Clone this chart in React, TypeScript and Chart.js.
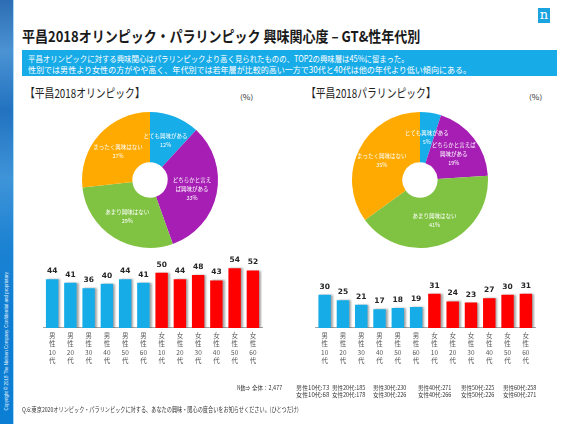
import React, { useEffect, useLayoutEffect, useRef } from "react";
import { Chart, registerables } from "chart.js";

Chart.register(...registerables);

// ---------- data ----------
const pieCategories = ["とても興味がある", "どちらかと言えば興味がある", "あまり興味はない", "まったく興味はない"];
const olympicValues = [12, 33, 29, 27];
const paralympicValues = [5, 19, 41, 35];
const olympicLabelLines = [["とても興味がある"], ["どちらかと言え", "ば興味がある"], ["あまり興味はない"], ["まったく興味はない"]];
const paralympicLabelLines = [["とても興味がある"], ["どちらかと言えば", "興味がある"], ["あまり興味はない"], ["まったく興味はない"]];
const pieColors = ["#17ADE8", "#A61EB4", "#80C342", "#FFAA00"];

const groups = ["男性10代", "男性20代", "男性30代", "男性40代", "男性50代", "男性60代", "女性10代", "女性20代", "女性30代", "女性40代", "女性50代", "女性60代"];
const groupAxisLabels = groups.map((g) => [g[0], g[1], g.slice(2, 4), g[4]]);
const olympicByGroup = [44, 41, 36, 40, 44, 41, 50, 44, 48, 43, 54, 52];
const paralympicByGroup = [30, 25, 21, 17, 18, 19, 31, 24, 23, 27, 30, 31];
const maleColor = "#15ACE8";
const femaleColor = "#FF0000";
const groupColors = groups.map((g) => (g.startsWith("男") ? maleColor : femaleColor));

const sampleTotal = "全体：2,477";
const sampleMale = ["男性10代:73", "男性20代:185", "男性30代:230", "男性40代:271", "男性50代:225", "男性60代:258"];
const sampleFemale = ["女性10代:68", "女性20代:178", "女性30代:226", "女性40代:266", "女性50代:226", "女性60代:271"];

const titleText = "平昌2018オリンピック・パラリンピック 興味関心度 – GT&性年代別";
const summaryLines = [
  "平昌オリンピックに対する興味関心はパラリンピックより高く見られたものの、TOP2の興味層は45%に留まった。",
  "性別では男性より女性の方がやや高く、年代別では若年層が比較的高い一方で30代と40代は他の年代より低い傾向にある。",
];
const questionText = "Q.6:東京2020オリンピック・パラリンピックに対する、あなたの興味・関心の度合いをお知らせください。(ひとつだけ)";
const copyrightText = "Copyright © 2018 The Nielsen Company. Confidential and proprietary.";

const JP = "'Noto Sans CJK JP', 'Noto Sans', sans-serif";

// ---------- helpers ----------
function FitText(props: {
  x: number; y: number; width: number; size: number; color?: string; weight?: number | string; family?: string; children: React.ReactNode;
}) {
  const ref = useRef<HTMLSpanElement>(null);
  useLayoutEffect(() => {
    const el = ref.current;
    if (!el) return;
    const fit = () => {
      const w = el.offsetWidth;
      if (w > 0) el.style.transform = `translateY(-50%) scaleX(${props.width / w})`;
    };
    fit();
    (document as any).fonts?.ready?.then(fit);
  });
  return (
    <span
      ref={ref}
      style={{
        position: "absolute",
        left: props.x,
        top: props.y,
        fontSize: props.size,
        lineHeight: 1,
        whiteSpace: "nowrap",
        color: props.color || "#222",
        fontWeight: props.weight || 400,
        fontFamily: props.family || JP,
        transformOrigin: "left center",
        transform: "translateY(-50%)",
      }}
    >
      {props.children}
    </span>
  );
}

function pieLabelPlugin(lines: string[][], values: number[]) {
  return {
    id: "pieLabels",
    afterDatasetsDraw(chart: any) {
      const ctx = chart.ctx;
      const meta = chart.getDatasetMeta(0);
      ctx.save();
      ctx.fillStyle = "#ffffff";
      ctx.font = `5.5px ${JP}`;
      ctx.textAlign = "center";
      ctx.textBaseline = "middle";
      meta.data.forEach((arc: any, i: number) => {
        const p = arc.getProps(["x", "y", "startAngle", "endAngle", "innerRadius", "outerRadius"], true);
        const mid = (p.startAngle + p.endAngle) / 2;
        const r = (p.innerRadius + p.outerRadius) / 2;
        const cx = p.x + Math.cos(mid) * r;
        const cy = p.y + Math.sin(mid) * r;
        const all = [...lines[i], `${values[i]}%`];
        const lh = 9;
        all.forEach((t, j) => ctx.fillText(t, cx, cy + (j - (all.length - 1) / 2) * lh));
      });
      ctx.restore();
    },
  };
}

function Doughnut(props: { values: number[]; lines: string[][]; left: number; top: number; size: number }) {
  const ref = useRef<HTMLCanvasElement>(null);
  useEffect(() => {
    const chart = new Chart(ref.current as HTMLCanvasElement, {
      type: "doughnut",
      data: {
        labels: pieCategories,
        datasets: [{ data: props.values, backgroundColor: pieColors, borderWidth: 0 }],
      },
      options: {
        responsive: false,
        animation: false,
        cutout: "26%",
        layout: { padding: (props.size - 136) / 2 },
        plugins: { legend: { display: false }, tooltip: { enabled: false } },
      },
      plugins: [pieLabelPlugin(props.lines, props.values)],
    } as any);
    return () => chart.destroy();
  }, []);
  return (
    <canvas
      ref={ref}
      width={props.size}
      height={props.size}
      style={{ position: "absolute", left: props.left, top: props.top, width: props.size, height: props.size }}
    />
  );
}

const barShadowPlugin = {
  id: "barShadow",
  beforeDatasetsDraw(chart: any) {
    const c = chart.ctx;
    c.save();
    c.shadowColor = "rgba(0,0,0,0.35)";
    c.shadowBlur = 2;
    c.shadowOffsetX = 2;
    c.shadowOffsetY = 0;
  },
  afterDatasetsDraw(chart: any) {
    chart.ctx.restore();
  },
};

const barValuePlugin = {
  id: "barValues",
  afterDatasetsDraw(chart: any) {
    const ctx = chart.ctx;
    const meta = chart.getDatasetMeta(0);
    const data = chart.data.datasets[0].data;
    ctx.save();
    ctx.fillStyle = "#262626";
    ctx.font = "bold 7.5px 'DejaVu Sans', sans-serif";
    ctx.textAlign = "center";
    ctx.textBaseline = "middle";
    meta.data.forEach((bar: any, i: number) => ctx.fillText(String(data[i]), bar.x, bar.y - 8));
    ctx.restore();
  },
};

function Bars(props: { values: number[]; left: number; top: number; width: number; height: number; padL: number; padR: number }) {
  const ref = useRef<HTMLCanvasElement>(null);
  useEffect(() => {
    const chart = new Chart(ref.current as HTMLCanvasElement, {
      type: "bar",
      data: {
        labels: groupAxisLabels,
        datasets: [
          {
            data: props.values,
            backgroundColor: groupColors,
            borderWidth: 0,
            barPercentage: 0.68,
            categoryPercentage: 1,
          },
        ],
      },
      options: {
        responsive: false,
        animation: false,
        layout: { padding: { left: props.padL, right: props.padR, top: 21.7, bottom: 6.7 } },
        scales: {
          x: {
            grid: { display: false, drawTicks: false },
            border: { display: true, color: "#A6A6A6", width: 1 },
            ticks: {
              autoSkip: false,
              maxRotation: 0,
              minRotation: 0,
              padding: 3,
              color: "#595959",
              font: { size: 6.5, family: JP, lineHeight: 1.32 },
            },
          },
          y: { display: false, min: 0, max: 60 },
        },
        plugins: { legend: { display: false }, tooltip: { enabled: false } },
      },
      plugins: [barShadowPlugin, barValuePlugin],
    } as any);
    return () => chart.destroy();
  }, []);
  return (
    <canvas
      ref={ref}
      width={props.width}
      height={props.height}
      style={{ position: "absolute", left: props.left, top: props.top, width: props.width, height: props.height }}
    />
  );
}

const footerX = [296, 332, 373, 418, 461, 503];

export default function App() {
  return (
    <div
      style={{
        position: "fixed",
        left: 0,
        top: 0,
        width: 570,
        height: 424,
        background: "#ffffff",
        overflow: "hidden",
        fontFamily: JP,
      }}
    >
      {/* left sidebar */}
      <div
        style={{
          position: "absolute",
          left: 0,
          top: 0,
          width: 13,
          height: 424,
          background:
            "linear-gradient(180deg, #2D6DB3 0%, #4B93D3 12%, #2272C0 26%, #3F94D8 42%, #1C82D2 58%, #0D7DD2 75%, #0B7FD4 100%)",
          borderRight: "1px solid #A9D8F5",
        }}
      />
      <div
        style={{
          position: "absolute",
          left: 7,
          top: 341,
          transform: "translate(-50%, -50%) rotate(-90deg)",
          fontSize: 4.5,
          lineHeight: 1,
          whiteSpace: "nowrap",
          color: "#E8F4FF",
          fontFamily: "'Liberation Sans', sans-serif",
        }}
      >
        {copyrightText}
      </div>

      {/* logo */}
      <div
        style={{
          position: "absolute",
          left: 538,
          top: 8,
          width: 12,
          height: 15,
          background: "#1AA3DF",
          color: "#fff",
          fontSize: 13,
          lineHeight: "14px",
          textAlign: "center",
          fontFamily: "'DejaVu Serif', serif",
        }}
      >
        n
      </div>

      {/* title */}
      <FitText x={22} y={35} width={398} size={15} weight={700} color="#1A1A1A">
        {titleText}
      </FitText>

      {/* summary box */}
      <div style={{ position: "absolute", left: 22, top: 50, width: 535, height: 26, background: "#17ABE8" }} />
      <FitText x={28} y={57.5} width={381} size={8.5} color="#ffffff">
        {summaryLines[0]}
      </FitText>
      <FitText x={28} y={68.5} width={443} size={8.5} color="#ffffff">
        {summaryLines[1]}
      </FitText>

      {/* section headers */}
      <FitText x={25} y={93} width={120} size={12} color="#222">
        【平昌2018オリンピック】
      </FitText>
      <FitText x={240} y={97} width={13} size={7} color="#333">
        (%)
      </FitText>
      <FitText x={306} y={93} width={130} size={12} color="#222">
        【平昌2018パラリンピック】
      </FitText>
      <FitText x={529} y={97} width={13} size={7} color="#333">
        (%)
      </FitText>

      {/* doughnuts */}
      <Doughnut values={olympicValues} lines={olympicLabelLines} left={75} top={105} size={150} />
      <Doughnut values={paralympicValues} lines={paralympicLabelLines} left={345} top={105} size={150} />

      {/* bar charts */}
      <Bars values={olympicByGroup} left={30} top={240} width={245} height={135} padL={13} padR={13} />
      <Bars values={paralympicByGroup} left={300} top={240} width={250} height={135} padL={15.5} padR={15} />

      {/* sample sizes */}
      <FitText x={237} y={389} width={13} size={5.5} color="#333">
        N数⇒
      </FitText>
      <FitText x={252} y={389} width={30} size={5.5} color="#333">
        {sampleTotal}
      </FitText>
      {sampleMale.map((t, i) => (
        <FitText key={"m" + i} x={footerX[i]} y={389} width={33} size={5.5} color="#333">
          {t}
        </FitText>
      ))}
      {sampleFemale.map((t, i) => (
        <FitText key={"f" + i} x={footerX[i]} y={396} width={33} size={5.5} color="#333">
          {t}
        </FitText>
      ))}

      {/* question */}
      <FitText x={22} y={409} width={277} size={6.5} color="#333">
        {questionText}
      </FitText>
    </div>
  );
}
